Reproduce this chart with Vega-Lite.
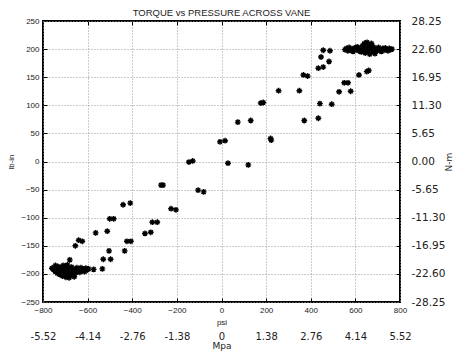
{
  "$schema": "https://vega.github.io/schema/vega-lite/v6.json",
  "width": 357,
  "height": 281,
  "autosize": {"type": "none"},
  "padding": {"left": 43, "top": 21, "right": 53, "bottom": 54},
  "background": "white",
  "title": {"text": "TORQUE vs PRESSURE ACROSS VANE", "font": "Liberation Sans", "fontSize": 9.5, "fontWeight": "normal", "color": "#222", "offset": -1, "anchor": "middle", "frame": "group"},
  "config": {
    "view": {"stroke": "black", "strokeWidth": 2},
    "axis": {"labelFont": "Liberation Sans", "titleFont": "Liberation Sans", "labelColor": "#222", "titleColor": "#222", "titleFontWeight": "normal", "domain": false, "ticks": false, "grid": false}
  },
  "data": {"values": [
    {"psi": -441, "lb": -77}, {"psi": -409, "lb": -74}, {"psi": -226, "lb": -84}, {"psi": -204, "lb": -86},
    {"psi": -501, "lb": -102}, {"psi": -483, "lb": -102}, {"psi": -310, "lb": -108}, {"psi": -288, "lb": -108},
    {"psi": -564, "lb": -127}, {"psi": -512, "lb": -124}, {"psi": -343, "lb": -128}, {"psi": -317, "lb": -126},
    {"psi": -640, "lb": -140}, {"psi": -624, "lb": -142}, {"psi": -655, "lb": -150}, {"psi": -424, "lb": -142},
    {"psi": -406, "lb": -142}, {"psi": -504, "lb": -159}, {"psi": -434, "lb": -159}, {"psi": -680, "lb": -175},
    {"psi": -530, "lb": -174}, {"psi": -497, "lb": -174}, {"psi": -573, "lb": -192}, {"psi": -534, "lb": -191},
    {"psi": -7, "lb": 35}, {"psi": 16, "lb": 37}, {"psi": -146, "lb": -1}, {"psi": -129, "lb": 1},
    {"psi": 29, "lb": -3}, {"psi": -271, "lb": -42}, {"psi": -262, "lb": -42}, {"psi": -105, "lb": -51}, {"psi": -80, "lb": -54},
    {"psi": 256, "lb": 126}, {"psi": 349, "lb": 126}, {"psi": 176, "lb": 104}, {"psi": 187, "lb": 105},
    {"psi": 73, "lb": 70}, {"psi": 131, "lb": 73}, {"psi": 371, "lb": 73}, {"psi": 220, "lb": 41},
    {"psi": 223, "lb": 38}, {"psi": 120, "lb": -6},
    {"psi": 456, "lb": 198}, {"psi": 486, "lb": 197}, {"psi": 446, "lb": 186}, {"psi": 482, "lb": 178},
    {"psi": 434, "lb": 166}, {"psi": 456, "lb": 168}, {"psi": 367, "lb": 154}, {"psi": 386, "lb": 152},
    {"psi": 550, "lb": 140}, {"psi": 567, "lb": 140}, {"psi": 527, "lb": 124}, {"psi": 579, "lb": 125},
    {"psi": 441, "lb": 103}, {"psi": 494, "lb": 102}, {"psi": 434, "lb": 77}, {"psi": 616, "lb": 154},
    {"psi": 651, "lb": 160}, {"psi": 660, "lb": 162},
    {"psi": -760, "lb": -190}, {"psi": -752, "lb": -193}, {"psi": -748, "lb": -188}, {"psi": -744, "lb": -196},
    {"psi": -740, "lb": -191}, {"psi": -736, "lb": -199}, {"psi": -732, "lb": -187}, {"psi": -728, "lb": -194},
    {"psi": -724, "lb": -201}, {"psi": -720, "lb": -189}, {"psi": -716, "lb": -196}, {"psi": -712, "lb": -204},
    {"psi": -708, "lb": -192}, {"psi": -704, "lb": -199}, {"psi": -700, "lb": -186}, {"psi": -697, "lb": -206},
    {"psi": -694, "lb": -195}, {"psi": -690, "lb": -202}, {"psi": -686, "lb": -190}, {"psi": -683, "lb": -207},
    {"psi": -680, "lb": -197}, {"psi": -676, "lb": -203}, {"psi": -672, "lb": -188}, {"psi": -668, "lb": -200},
    {"psi": -664, "lb": -194}, {"psi": -660, "lb": -205}, {"psi": -656, "lb": -191}, {"psi": -652, "lb": -198},
    {"psi": -648, "lb": -189}, {"psi": -644, "lb": -195}, {"psi": -640, "lb": -192}, {"psi": -635, "lb": -197},
    {"psi": -630, "lb": -189}, {"psi": -625, "lb": -194}, {"psi": -620, "lb": -191}, {"psi": -614, "lb": -196},
    {"psi": -608, "lb": -190}, {"psi": -602, "lb": -193}, {"psi": -596, "lb": -191}, {"psi": -744, "lb": -185},
    {"psi": -710, "lb": -185}, {"psi": -690, "lb": -184},
    {"psi": 553, "lb": 199}, {"psi": 560, "lb": 201}, {"psi": 566, "lb": 197}, {"psi": 572, "lb": 203},
    {"psi": 578, "lb": 198}, {"psi": 584, "lb": 200}, {"psi": 590, "lb": 196}, {"psi": 596, "lb": 202},
    {"psi": 602, "lb": 199}, {"psi": 608, "lb": 204}, {"psi": 614, "lb": 197}, {"psi": 620, "lb": 201},
    {"psi": 626, "lb": 195}, {"psi": 632, "lb": 206}, {"psi": 636, "lb": 199}, {"psi": 640, "lb": 210},
    {"psi": 644, "lb": 193}, {"psi": 648, "lb": 203}, {"psi": 652, "lb": 212}, {"psi": 656, "lb": 197},
    {"psi": 660, "lb": 208}, {"psi": 664, "lb": 191}, {"psi": 668, "lb": 202}, {"psi": 672, "lb": 210},
    {"psi": 676, "lb": 195}, {"psi": 680, "lb": 204}, {"psi": 684, "lb": 198}, {"psi": 688, "lb": 192},
    {"psi": 692, "lb": 201}, {"psi": 698, "lb": 197}, {"psi": 704, "lb": 203}, {"psi": 710, "lb": 199},
    {"psi": 716, "lb": 196}, {"psi": 722, "lb": 201}, {"psi": 728, "lb": 198}, {"psi": 734, "lb": 202},
    {"psi": 740, "lb": 199}, {"psi": 746, "lb": 197}, {"psi": 752, "lb": 201}, {"psi": 758, "lb": 199},
    {"psi": 764, "lb": 200}
  ]},
  "layer": [
    {
      "mark": {"type": "point", "shape": "M-1,0L1,0M0,-1L0,1M-0.7,-0.7L0.7,0.7M-0.7,0.7L0.7,-0.7", "filled": false, "stroke": "black", "strokeWidth": 1.4, "size": 34, "opacity": 1},
      "encoding": {
        "x": {"field": "psi", "type": "quantitative", "scale": {"domain": [-800, 800], "nice": false, "zero": false},
              "axis": {"orient": "bottom", "values": [-800, -600, -400, -200, 0, 200, 400, 600, 800], "grid": true, "gridDash": [1, 2], "gridColor": "#999", "labelFontSize": 8, "labelPadding": 4.5, "labelFlush": false, "title": "psi", "titleFontSize": 8, "titleX": 178.5, "titleY": 20, "titleBaseline": "middle"}},
        "y": {"field": "lb", "type": "quantitative", "scale": {"domain": [-250, 250], "nice": false, "zero": false},
              "axis": {"orient": "left", "values": [-250, -200, -150, -100, -50, 0, 50, 100, 150, 200, 250], "grid": true, "gridDash": [1, 2], "gridColor": "#999", "labelFontSize": 8, "labelPadding": 4, "labelFlush": false, "title": "lb-in", "titleFontSize": 8, "titleX": -32, "titleY": 140.5, "titleAngle": 270, "titleBaseline": "middle"}}
      }
    },
    {
      "mark": {"type": "point", "opacity": 0},
      "encoding": {
        "x": {"field": "psi", "type": "quantitative", "scale": {"domain": [-800, 800], "nice": false, "zero": false},
              "axis": {"orient": "bottom", "values": [-800, -600, -400, -200, 0, 200, 400, 600, 800], "labelExpr": "datum.value == 0 ? '0' : (datum.value < 0 ? '-' : '') + format(abs(datum.value) * 0.0069, '.2f')", "labelFont": "DejaVu Sans", "labelFontSize": 10, "labelPadding": 29, "labelFlush": false, "labelOverlap": false, "title": "Mpa", "titleFont": "DejaVu Sans", "titleFontSize": 9, "titleX": 178.5, "titleY": 43, "titleBaseline": "middle"}},
        "y": {"field": "lb", "type": "quantitative", "scale": {"domain": [-250, 250], "nice": false, "zero": false},
              "axis": {"orient": "right", "values": [-250, -200, -150, -100, -50, 0, 50, 100, 150, 200, 250], "labelExpr": "(datum.value < 0 ? '-' : '') + format(abs(datum.value) * 0.113, '.2f')", "labelFont": "DejaVu Sans", "labelFontSize": 10.5, "labelPadding": 11, "labelFlush": false, "labelOverlap": false, "title": "N-m", "titleFont": "DejaVu Sans", "titleFontSize": 9, "titleX": 48, "titleY": 140.5, "titleAngle": 270, "titleBaseline": "middle"}}
      }
    },
    {
      "mark": {"type": "point", "opacity": 0},
      "encoding": {
        "x": {"field": "psi", "type": "quantitative", "scale": {"domain": [-800, 800], "nice": false, "zero": false},
              "axis": {"orient": "top", "offset": -4, "values": [-600, -400, -200, 0, 200, 400, 600], "ticks": true, "tickSize": 4, "tickColor": "black", "labels": false, "title": null}},
        "y": {"field": "lb", "type": "quantitative", "scale": {"domain": [-250, 250], "nice": false, "zero": false},
              "axis": {"orient": "left", "offset": -4, "values": [-200, -150, -100, -50, 0, 50, 100, 150, 200], "ticks": true, "tickSize": 4, "tickColor": "black", "labels": false, "title": null}}
      }
    },
    {
      "mark": {"type": "point", "opacity": 0},
      "encoding": {
        "x": {"field": "psi", "type": "quantitative", "scale": {"domain": [-800, 800], "nice": false, "zero": false},
              "axis": {"orient": "bottom", "offset": -4, "values": [-600, -400, -200, 0, 200, 400, 600], "ticks": true, "tickSize": 4, "tickColor": "black", "labels": false, "title": null}},
        "y": {"field": "lb", "type": "quantitative", "scale": {"domain": [-250, 250], "nice": false, "zero": false},
              "axis": {"orient": "right", "offset": -4, "values": [-200, -150, -100, -50, 0, 50, 100, 150, 200], "ticks": true, "tickSize": 4, "tickColor": "black", "labels": false, "title": null}}
      }
    }
  ],
  "resolve": {"axis": {"x": "independent", "y": "independent"}}
}
